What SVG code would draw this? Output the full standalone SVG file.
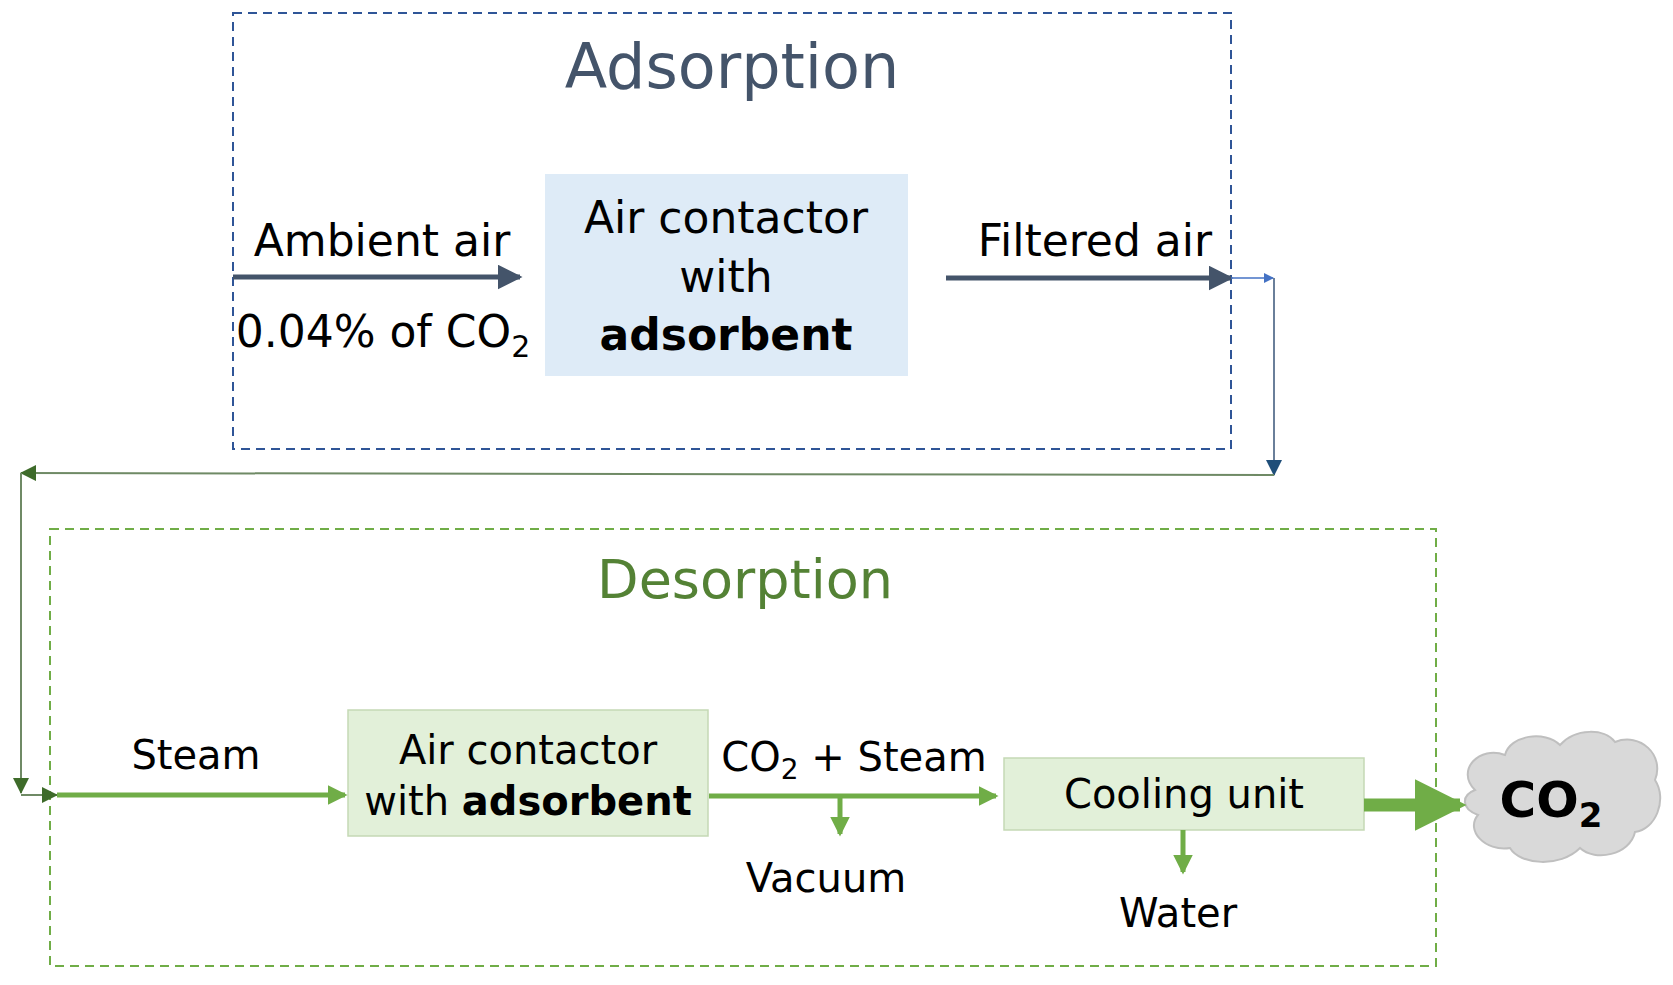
<svg xmlns="http://www.w3.org/2000/svg" width="1673" height="985" viewBox="0 0 1673 985">
<style>
text{font-family:"DejaVu Sans","Liberation Sans",sans-serif;fill:#000;text-anchor:middle}
.t{font-size:44px}
.s{font-size:40px}
</style>
<defs>
<marker id="ad" markerWidth="5" markerHeight="5" refX="4.5" refY="2.5" orient="auto" markerUnits="strokeWidth"><path d="M0,0L5,2.5L0,5z" fill="#44546A"/></marker>
<marker id="bl" markerWidth="10" markerHeight="10" refX="9" refY="5" orient="auto" markerUnits="userSpaceOnUse"><path d="M0,0L10,5L0,10z" fill="#4472C4"/></marker>
<marker id="nb" markerWidth="16" markerHeight="16" refX="15" refY="8" orient="auto" markerUnits="userSpaceOnUse"><path d="M0,0L16,8L0,16z" fill="#1F4E79"/></marker>
<marker id="dg" markerWidth="16" markerHeight="16" refX="15" refY="8" orient="auto" markerUnits="userSpaceOnUse"><path d="M0,0L16,8L0,16z" fill="#3E6B2A"/></marker>
<marker id="gr" markerWidth="4" markerHeight="4" refX="3.5" refY="2" orient="auto" markerUnits="strokeWidth"><path d="M0,0L4,2L0,4z" fill="#70AD47"/></marker>
</defs>
<g id="adsorption"><rect x="233" y="13" width="998" height="436" fill="none" stroke="#2F5597" stroke-width="2" stroke-dasharray="9,6"/>
<text x="732" y="88" style="font-size:62px;fill:#44546A">Adsorption</text></g>
<g id="desorption"><rect x="50" y="529" width="1386" height="437" fill="none" stroke="#70AD47" stroke-width="2" stroke-dasharray="9,6"/>
<text x="745" y="598" style="font-size:54px;fill:#548235">Desorption</text></g>
<g id="contactor1"><rect x="545" y="174" width="363" height="202" fill="#DEEBF7"/>
<text class="t" x="726" y="233">Air contactor</text><text class="t" x="726" y="292">with</text><text class="t" x="726" y="350" font-weight="bold">adsorbent</text></g>
<g id="contactor2"><rect x="348" y="710" width="360" height="126" fill="#E2F0D9" stroke="#C5D9B5" stroke-width="1.5"/>
<text class="s" x="528" y="764">Air contactor</text><text class="s" x="528" y="815">with <tspan font-weight="bold">adsorbent</tspan></text></g>
<g id="cooling"><rect x="1004" y="758" width="360" height="72" fill="#E2F0D9" stroke="#C5D9B5" stroke-width="1.5"/>
<text class="s" x="1184" y="808">Cooling unit</text></g>
<g id="cloud"><path d="M1475,790 C1455,770 1480,745 1505,755 C1510,735 1545,730 1560,745 C1575,728 1605,728 1615,742 C1640,732 1665,755 1655,780 C1668,800 1655,830 1635,832 C1630,855 1595,862 1580,848 C1560,868 1520,865 1510,848 C1485,852 1465,830 1478,815 C1460,808 1462,795 1475,790 Z" fill="#D9D9D9" stroke="#BFBFBF" stroke-width="2"/>
<text x="1551" y="817" style="font-size:50px;font-weight:bold">CO<tspan dy="10" font-size="34">2</tspan></text></g>
<g id="labels">
<text class="t" x="382" y="256">Ambient air</text>
<text class="t" x="383" y="347">0.04% of CO<tspan dy="10" font-size="30">2</tspan></text>
<text class="t" x="1095" y="256">Filtered air</text>
<text class="s" x="196" y="769">Steam</text>
<text class="s" x="854" y="771">CO<tspan dy="8" font-size="28">2</tspan><tspan dy="-8"> + Steam</tspan></text>
<text class="s" x="826" y="892">Vacuum</text>
<text class="s" x="1178" y="927">Water</text>
</g>
<g id="connectors" fill="none">
<line x1="233" y1="277" x2="520" y2="277" stroke="#44546A" stroke-width="5" marker-end="url(#ad)"/>
<line x1="946" y1="278" x2="1231" y2="278" stroke="#44546A" stroke-width="5" marker-end="url(#ad)"/>
<line x1="1231" y1="278" x2="1273" y2="278" stroke="#4472C4" stroke-width="1.5" marker-end="url(#bl)"/>
<polyline points="1274,278 1274,475" stroke="#6A7F9A" stroke-width="2" marker-end="url(#nb)"/>
<polyline points="1274,475 21,473" stroke="#6F8A65" stroke-width="2" marker-end="url(#dg)"/>
<polyline points="21,473 21,793" stroke="#6F8A65" stroke-width="2" marker-end="url(#dg)"/>
<polyline points="21,795 57,795" stroke="#6F8A65" stroke-width="2" marker-end="url(#dg)"/>
<line x1="57" y1="795" x2="345" y2="795" stroke="#70AD47" stroke-width="5" marker-end="url(#gr)"/>
<line x1="709" y1="796" x2="996" y2="796" stroke="#70AD47" stroke-width="5" marker-end="url(#gr)"/>
<line x1="840" y1="796" x2="840" y2="834" stroke="#70AD47" stroke-width="5" marker-end="url(#gr)"/>
<line x1="1183" y1="830" x2="1183" y2="872" stroke="#70AD47" stroke-width="5" marker-end="url(#gr)"/>
<line x1="1364" y1="805" x2="1460" y2="805" stroke="#70AD47" stroke-width="13" marker-end="url(#gr)" marker-width="3"/>
</g>
</svg>
